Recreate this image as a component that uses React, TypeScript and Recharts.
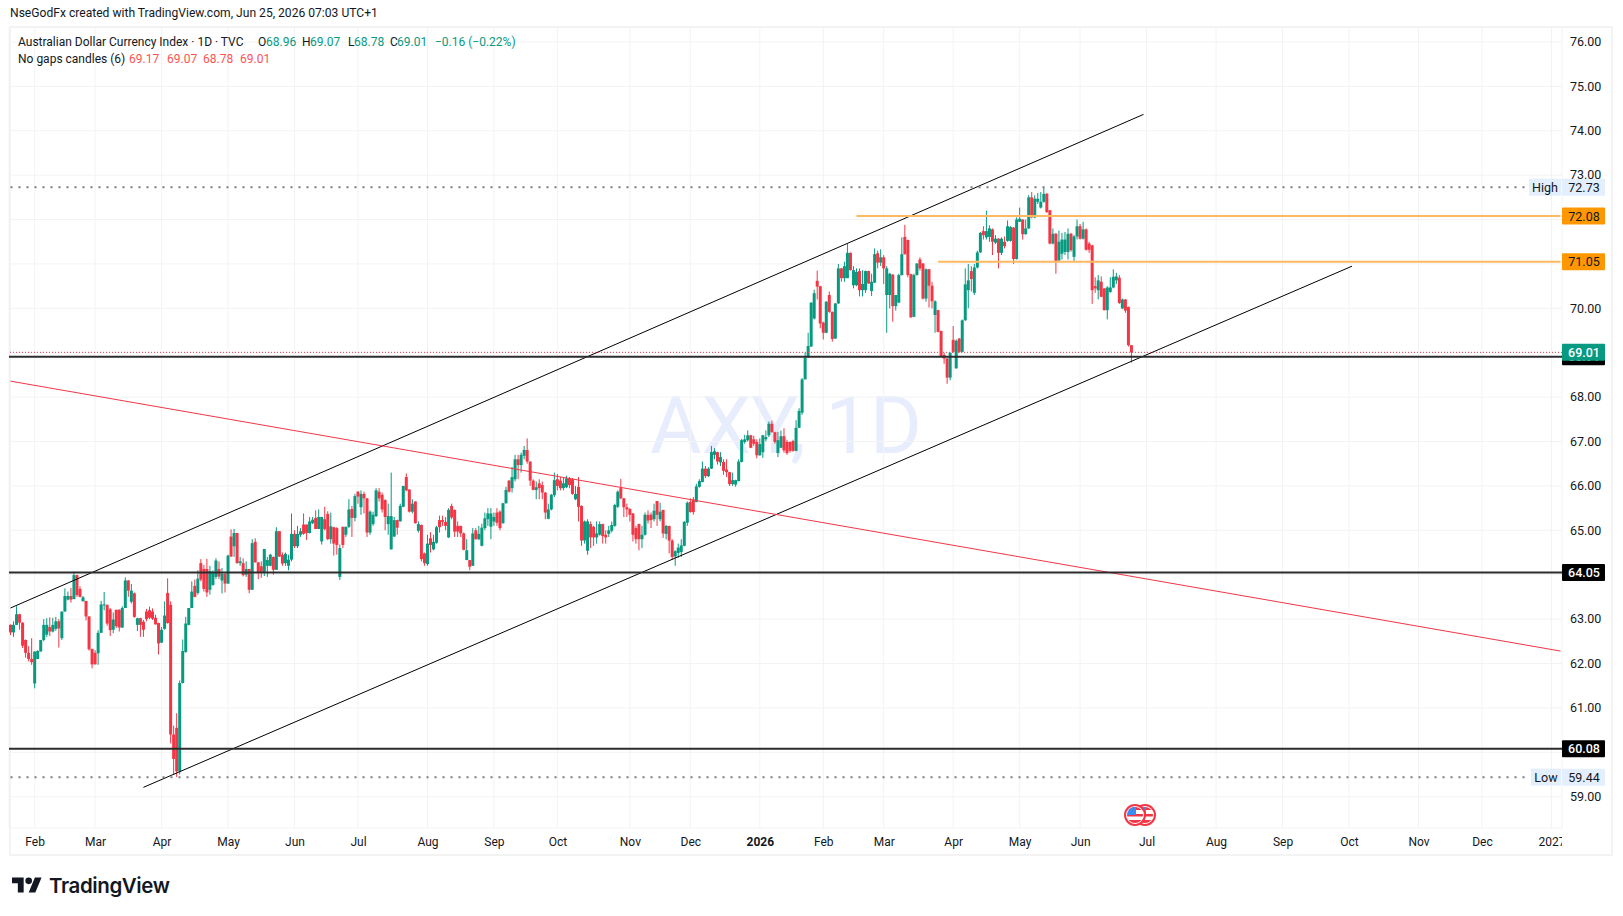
import { Bar, CartesianGrid, ComposedChart, ReferenceLine, XAxis, YAxis } from "recharts";

const UP = "#089981";
const DOWN = "#f23645";
const INK = "#131722";
const FONT = "Roboto, sans-serif";

// every candle is [open, high, low, close]
const early2025 = [
  [62.87,62.88,62.64,62.70],[62.70,62.95,62.60,62.87],[62.87,63.29,62.87,63.11],[63.11,63.12,62.76,62.92],
  [62.92,62.93,62.35,62.40],[62.53,62.54,62.13,62.24],[62.24,62.39,62.05,62.10],[62.10,62.57,61.97,62.03],
  [61.55,62.27,61.44,62.27],[62.10,62.30,62.10,62.28],[62.27,62.53,62.27,62.53],[62.53,63.00,62.50,62.87],
  [62.65,63.02,62.60,62.87],[62.82,63.04,62.62,62.72],[62.72,63.03,62.70,62.87],[62.78,63.05,62.74,62.95],
  [62.95,63.00,62.36,62.79],[62.57,63.17,62.53,63.17],[63.17,63.69,63.17,63.52],[63.44,63.62,63.42,63.52],
  [63.52,63.70,63.37,63.44],[63.45,64.07,63.45,63.99],[63.99,64.00,63.50,63.54],[63.68,63.74,63.49,63.50],
  [63.40,63.52,63.40,63.49],[63.41,63.41,62.97,63.06],[63.06,63.06,62.29,62.32],[62.33,62.33,61.89,61.98],
  [62.24,62.30,61.98,61.98],[62.23,62.75,61.97,62.69],[62.69,63.41,62.69,63.33],[63.31,63.61,63.20,63.33],
  [63.32,63.33,62.85,62.90],[63.22,63.25,62.62,62.75],[62.76,63.15,62.68,62.99],[63.21,63.21,62.80,62.84],
  [63.21,63.22,62.72,62.81],[62.81,63.29,62.80,63.25],[63.25,63.94,63.25,63.87],[63.87,63.88,63.50,63.64],
  [63.39,63.79,63.35,63.64],[63.58,63.60,63.03,63.05],[62.87,63.03,62.73,63.02],[63.02,63.03,62.60,62.87],
  [62.94,62.98,62.60,62.76],[63.17,63.23,62.95,63.00],[63.20,63.28,63.00,63.03],[63.17,63.24,62.98,63.01],
  [63.03,63.10,62.88,62.88],[62.91,62.92,62.20,62.45],[62.47,62.82,62.46,62.76],[62.78,63.40,62.76,63.08],
  [63.59,63.92,62.90,62.91],[63.32,63.40,60.20,60.40],[60.40,60.60,59.49,59.85],[60.55,60.88,59.44,59.57],
  [59.57,61.62,59.50,61.56],[61.56,62.54,61.55,62.28],[62.26,63.05,62.24,62.90],[62.87,63.25,62.86,63.25],
  [63.25,63.85,63.25,63.62],[63.75,63.89,63.49,63.50],[63.59,64.10,63.55,63.91],[64.26,64.35,63.85,63.89],
  [64.13,64.22,63.62,63.68],[64.13,64.36,63.50,63.60],[63.66,64.20,63.55,64.08],[63.77,64.10,63.75,64.04],
  [63.95,64.37,63.90,64.32],[64.13,64.30,63.90,63.96],[63.87,64.15,63.58,64.02],[64.02,64.03,63.60,63.80],
  [63.80,64.45,63.80,64.43],[64.86,65.02,64.40,64.41],[64.64,65.03,64.40,64.94],[64.94,64.94,64.25,64.26],
  [64.26,64.40,64.20,64.30],[64.26,64.37,63.96,63.99],[64.00,64.30,63.95,64.13],[64.13,64.13,63.58,63.66],
  [63.66,64.80,63.66,64.71],[64.74,64.82,64.27,64.28],[64.28,64.28,63.90,64.05],[64.19,64.30,63.93,64.05],
  [64.05,64.58,63.97,64.58],[64.20,64.40,63.95,64.33],[64.20,64.47,64.19,64.45],[64.40,64.41,64.00,64.11],
  [64.11,65.07,64.11,64.98],[64.98,64.98,64.40,64.41],[64.45,64.50,64.20,64.25],[64.26,64.50,64.20,64.47],
  [64.20,64.45,64.10,64.34],[64.34,65.38,64.30,64.92],[64.92,65.00,64.60,64.64],[64.64,65.10,64.60,64.92],
  [64.90,65.05,64.85,64.98],[65.13,65.38,64.90,64.92],[65.13,65.13,64.78,64.94],[64.94,65.30,64.93,65.20],
  [65.16,65.30,65.14,65.24],[65.28,65.45,65.03,65.03],[65.03,65.47,65.03,65.30],[64.75,65.30,64.68,65.30],
  [65.25,65.53,65.00,65.03],[65.37,65.43,64.78,64.80],[64.80,65.40,64.70,65.09],[65.07,65.08,64.43,64.70],
];

const mid2025 = [
  [65.05,65.07,64.45,64.67],[63.95,64.68,63.88,64.60],[65.08,65.08,64.60,64.67],[64.90,65.08,64.85,65.08],
  [65.08,65.70,65.05,65.47],[65.48,65.55,64.85,65.28],[65.28,65.82,65.20,65.77],[65.87,65.88,65.60,65.76],
  [65.52,65.90,65.35,65.82],[65.82,65.87,65.38,65.72],[65.72,65.73,64.85,64.95],[64.95,65.45,64.90,65.42],
  [65.14,65.42,65.10,65.35],[65.32,65.95,65.30,65.90],[65.87,65.95,65.65,65.72],[65.80,65.85,65.40,65.47],
  [65.68,65.70,65.00,65.30],[65.14,65.60,64.90,65.32],[64.57,66.30,64.57,65.32],[64.86,65.30,64.85,65.23],
  [65.23,65.24,64.90,65.06],[65.20,65.60,65.20,65.55],[65.53,66.00,65.52,66.00],[66.20,66.28,65.88,65.90],
  [65.92,65.92,65.40,65.42],[65.42,65.70,65.38,65.60],[65.65,65.65,65.15,65.16],[64.99,65.20,64.95,65.14],
  [65.12,65.13,64.30,64.35],[64.48,64.50,64.20,64.26],[64.24,64.90,64.20,64.70],[64.82,64.96,64.50,64.67],
  [64.57,64.90,64.55,64.74],[64.72,65.10,64.70,65.07],[65.23,65.33,64.95,65.07],[65.23,65.33,65.10,65.19],
  [65.19,65.30,65.00,65.10],[64.84,65.50,64.83,65.46],[65.55,65.60,65.25,65.29],[65.46,65.47,64.85,64.97],
  [65.10,65.20,64.85,64.97],[65.10,65.10,64.85,64.93],[64.93,64.95,64.55,64.56],[64.33,64.80,64.33,64.55],
  [64.33,64.33,64.10,64.18],[64.20,65.05,64.20,64.93],[65.00,65.05,64.79,64.80],[64.80,65.10,64.78,64.92],
  [64.65,65.15,64.64,65.06],[65.05,65.40,65.00,65.27],[65.25,65.50,65.10,65.38],[65.08,65.50,64.80,65.38],
  [65.20,65.40,65.10,65.30],[65.40,65.50,65.10,65.17],[65.42,65.45,65.00,65.05],[65.16,65.62,65.15,65.61],
  [65.61,65.98,65.60,65.91],[66.12,66.13,65.85,65.87],[65.95,66.43,65.85,66.20],[66.15,66.70,66.10,66.60],
  [66.60,66.70,66.15,66.47],[66.47,66.75,66.30,66.70],[66.68,66.90,66.60,66.81],[66.81,67.07,66.50,66.55],
  [66.55,66.55,66.00,66.12],[66.12,66.15,65.90,65.91],[65.91,66.10,65.70,65.97],[66.06,66.15,65.70,65.95],
  [66.02,66.10,65.70,65.85],[65.85,65.86,65.25,65.40],[65.26,65.60,65.25,65.47],[65.47,65.82,65.45,65.80],
  [65.79,66.30,65.75,66.13],[66.15,66.27,65.90,66.00],[66.12,66.20,65.90,65.95],[65.95,66.20,65.90,66.06],
  [65.97,66.23,65.95,66.17],[66.17,66.20,65.95,66.02],[66.15,66.18,65.80,65.82],[65.70,66.00,65.68,65.82],
  [65.98,66.20,65.20,65.53],[65.55,65.56,64.65,64.77],[64.77,65.22,64.70,65.20],[64.54,65.25,64.45,65.20],
  [65.14,65.20,64.60,64.84],[65.08,65.10,64.65,64.84],[64.84,65.20,64.70,64.93],[64.90,65.20,64.88,65.14],
  [65.14,65.15,64.70,64.87],[64.90,65.00,64.70,64.84],[64.92,65.10,64.85,65.00],[64.99,65.20,64.95,65.12],
  [65.10,65.60,65.08,65.57],[65.53,65.90,65.50,65.87],[65.95,66.16,65.70,65.72],[65.72,65.73,65.30,65.52],
  [65.52,65.60,65.30,65.47],[65.48,65.50,65.20,65.35],[65.38,65.39,64.75,64.90],[65.05,65.10,64.70,64.80],
  [65.14,65.15,64.55,64.80],[64.80,65.10,64.60,64.90],[64.90,65.40,64.88,65.35],[65.35,65.45,65.15,65.22],
  [65.35,65.40,65.05,65.23],[65.25,65.60,65.20,65.44],[65.66,65.66,65.10,65.35],[65.25,65.62,65.20,65.42],
  [65.46,65.46,64.83,64.93],[64.92,65.12,64.80,65.10],[65.10,65.10,64.48,64.77],
];

const winter2026 = [
  [64.77,64.80,64.33,64.40],[64.41,64.55,64.20,64.53],[64.49,64.70,64.38,64.61],[64.51,64.80,64.40,64.66],
  [64.65,65.21,64.64,65.19],[65.17,65.65,65.10,65.62],[65.64,65.72,65.40,65.41],[65.69,65.75,65.35,65.41],
  [65.64,66.05,65.63,65.99],[65.98,66.15,65.96,66.11],[66.09,66.55,66.08,66.39],[66.39,66.45,66.18,66.22],
  [66.22,66.42,66.20,66.39],[66.39,66.90,66.38,66.76],[66.70,66.85,66.60,66.78],[66.76,66.77,66.48,66.55],
  [66.53,66.76,66.45,66.65],[66.54,66.60,66.25,66.34],[66.37,66.60,66.20,66.31],[66.31,66.32,66.00,66.04],
  [66.04,66.30,66.00,66.13],[66.03,66.14,65.98,66.13],[66.11,66.60,66.10,66.55],[66.54,67.06,66.53,67.03],
  [66.99,67.15,66.95,67.05],[67.03,67.25,67.00,67.14],[67.14,67.15,66.85,66.86],[67.05,67.13,66.90,66.95],
  [66.99,67.05,66.62,66.69],[66.69,67.07,66.68,66.94],[66.76,67.15,66.63,67.14],[67.05,67.25,67.00,67.10],
  [67.14,67.45,67.10,67.40],[67.40,67.47,67.20,67.21],[67.21,67.22,66.95,66.99],[66.74,67.22,66.65,67.03],
  [66.86,67.25,66.85,67.12],[67.12,67.30,66.75,66.80],[66.99,67.04,66.70,66.74],[66.99,67.00,66.75,66.79],
  [67.01,67.04,66.77,66.79],[66.79,67.48,66.78,67.31],[67.31,67.75,67.30,67.69],
  [67.65,68.43,67.60,68.40],[68.40,69.00,68.40,68.89],[68.90,69.45,68.88,69.15],[69.14,70.13,69.13,70.13],
  [69.77,70.42,69.75,70.34],[70.62,70.85,70.20,70.49],[70.50,70.50,69.55,69.66],[69.68,69.70,69.30,69.45],
  [69.45,70.16,69.44,70.15],[70.30,70.38,69.90,69.92],[69.92,69.93,69.25,69.31],[69.32,70.12,69.31,70.11],
  [70.11,71.00,70.10,70.90],[70.90,70.91,70.60,70.68],[70.68,71.05,70.60,70.95],[70.68,71.45,70.68,71.25],
  [71.25,71.26,70.85,70.86],[70.52,70.95,70.45,70.86],[70.52,70.90,70.50,70.82],[70.84,70.90,70.27,70.41],
  [70.41,70.86,70.27,70.55],[70.41,70.85,70.35,70.84],[70.84,70.85,70.55,70.56],[70.39,70.78,70.28,70.60],
  [70.58,71.35,70.57,71.22],[71.24,71.30,70.90,71.03],[71.03,71.33,70.95,71.15],[71.15,71.20,70.55,70.90],
  [70.30,70.95,69.45,70.90],[70.30,70.80,70.00,70.78],[70.76,70.77,69.70,70.05],[70.05,70.30,69.95,70.30],
  [70.13,70.78,70.12,70.75],[70.75,71.60,70.74,71.22],[71.61,71.88,71.21,71.22],[71.54,71.55,70.70,70.75],
  [70.77,70.78,69.78,69.80],[69.81,70.78,69.80,70.75],[70.75,71.02,70.74,71.01],[71.10,71.15,70.85,70.90],
  [71.01,71.02,70.20,70.22],[70.22,70.90,70.15,70.88],[70.88,70.89,70.02,70.51],[70.51,70.60,70.00,70.16],
  [69.85,70.18,69.45,70.16],[69.96,69.97,69.46,69.47],[69.49,69.50,68.90,68.91],[68.95,69.00,68.75,68.87],
  [68.87,68.88,68.30,68.44],[68.44,69.00,68.38,69.00],[69.29,69.60,69.00,69.02],[68.65,69.30,68.64,69.27],
];

const recent2026 = [
  [69.32,69.33,69.00,69.02],[69.02,69.75,69.01,69.73],[69.73,70.90,69.72,70.54],[70.41,71.00,70.00,70.63],
  [70.84,70.95,70.38,70.66],[70.35,71.00,70.30,70.92],[70.92,71.30,70.90,71.26],[71.26,71.72,71.25,71.70],
  [71.74,71.85,71.55,71.65],[71.60,72.20,71.55,71.74],[71.61,71.87,71.50,71.80],[71.78,71.80,71.20,71.50],
  [71.48,71.65,71.45,71.57],[71.57,71.58,70.90,71.25],[71.25,71.60,71.20,71.57],[71.50,71.62,71.35,71.40],
  [71.52,71.98,71.50,71.85],[71.52,71.85,71.50,71.83],[71.82,71.83,71.00,71.11],[71.11,72.05,71.10,72.00],
  [71.95,72.27,71.95,72.02],[72.00,72.01,71.55,71.67],[71.67,72.00,71.66,71.80],[71.80,72.55,71.79,72.50],
  [72.50,72.62,72.03,72.05],[72.05,72.55,72.03,72.47],[72.40,72.60,72.35,72.47],[72.27,72.62,72.25,72.40],
  [72.40,72.73,72.38,72.58],[72.58,72.60,72.15,72.17],[72.21,72.22,71.44,71.46],[71.46,71.80,71.44,71.68],
  [71.68,71.70,70.78,71.07],[71.08,71.75,71.05,71.50],[71.23,71.70,71.10,71.55],[71.27,71.72,71.20,71.55],
  [71.27,71.80,71.10,71.68],[71.68,71.70,71.28,71.31],[71.16,71.65,71.05,71.62],[71.62,72.00,71.55,71.85],
  [71.85,71.90,71.55,71.57],[71.57,71.95,71.55,71.78],[71.78,71.80,71.30,71.32],[71.46,71.50,71.25,71.32],
  [71.42,71.43,70.10,70.41],[70.50,70.70,70.35,70.45],[70.41,70.75,70.20,70.63],[70.60,70.72,70.25,70.26],
  [70.45,70.45,69.95,69.96],[69.96,70.50,69.75,70.47],[70.37,70.70,70.35,70.47],[70.47,70.88,70.45,70.71],
  [70.63,70.80,70.55,70.72],[70.69,70.75,70.10,70.12],[70.00,70.22,69.98,70.20],[70.20,70.21,69.90,69.95],
  [70.03,70.04,69.14,69.17],[69.17,69.17,68.78,69.01],
];

// month ticks are the bar numbers the labels sit on
const monthLabels = ["Feb","Mar","Apr","May","Jun","Jul","Aug","Sep","Oct","Nov","Dec","2026","Feb","Mar","Apr","May","Jun","Jul","Aug","Sep","Oct","Nov","Dec","2027"];
const monthBars = [8,28,50,72,94,115,138,160,181,205,225,248,269,289,312,334,354,376,399,421,443,466,487,510];
const priceTicks = [59,60,61,62,63,64,65,66,67,68,69,70,71,72,73,74,75,76];
const hiddenPriceLabels = [60,64,69,71,72];
const TOTAL_BARS = 514;

const candles = [...early2025, ...mid2025, ...winter2026, ...recent2026];
const table = Array.from({ length: TOTAL_BARS }, (_, bar) => {
  const c = candles[bar];
  if (!c) return { bar };
  return { bar, open: c[0], high: c[1], low: c[2], close: c[3], range: [c[2], c[1]] };
});

const PLOT_RIGHT = 1562;

function Candle(props: any) {
  const { x, y, width, height, payload } = props;
  if (payload.open === undefined) return null;
  const { open, high, low, close } = payload;
  const perUnit = height / (high - low || 1);
  const top = y + (high - Math.max(open, close)) * perUnit;
  const bodyH = Math.max(Math.abs(open - close) * perUnit, 1);
  const cx = x + width / 2;
  const color = close >= open ? UP : DOWN;
  return (
    <g>
      <line x1={cx} x2={cx} y1={y} y2={y + height} stroke={color} strokeWidth={1} />
      <rect x={cx - 1.5} y={top} width={3} height={bodyH} fill={color} />
    </g>
  );
}

function TimeTick(props: any) {
  const { x, payload } = props;
  const label = monthLabels[monthBars.indexOf(payload.value)];
  return (
    <g>
      <defs>
        <clipPath id="timeClip">
          <rect x={0} y={828} width={PLOT_RIGHT} height={28} />
        </clipPath>
      </defs>
      <text x={x + 0.5} y={846} textAnchor="middle" clipPath="url(#timeClip)" fontFamily={FONT} fontSize={12} fill={INK} fontWeight={label === "2026" ? 700 : 400}>
        {label}
      </text>
    </g>
  );
}

function PriceTick(props: any) {
  const { y, payload } = props;
  if (hiddenPriceLabels.includes(payload.value)) return null;
  return (
    <text x={1570} y={y + 4.3} fontFamily={FONT} fontSize={12.5} fill={INK}>
      {payload.value.toFixed(2)}
    </text>
  );
}

function Tag(props: any) {
  const { viewBox, text, fill, color, name } = props;
  const y = viewBox.y;
  return (
    <g fontFamily={FONT} fontSize={12.5}>
      {name && <rect x={PLOT_RIGHT - (name === "High" ? 33 : 31)} y={y - 8.5} width={name === "High" ? 32 : 30} height={17} fill={fill} />}
      {name && <text x={PLOT_RIGHT - (name === "High" ? 17 : 16)} y={y + 4.5} textAnchor="middle" fill={INK}>{name}</text>}
      <rect x={PLOT_RIGHT} y={y - 8.5} width={43} height={17} rx={1} fill={fill} />
      <text x={PLOT_RIGHT + 22} y={y + 4.5} textAnchor="middle" fill={color} fontWeight={color === "#fff" ? 500 : 400}>{text}</text>
    </g>
  );
}

function UsFlag({ left }: { left: number }) {
  const r = 11;
  const id = "flag" + left;
  return (
    <svg style={{ position: "absolute", left, top: 804 }} width={22} height={22}>
      <defs>
        <clipPath id={id}><circle cx={r} cy={r} r={8} /></clipPath>
      </defs>
      <circle cx={r} cy={r} r={10} fill="#fff" stroke={DOWN} strokeWidth={2} />
      <g clipPath={`url(#${id})`}>
        <rect x={0} y={3} width={22} height={3} fill={DOWN} />
        <rect x={0} y={10} width={22} height={2.5} fill={DOWN} />
        <rect x={0} y={16} width={22} height={3} fill={DOWN} />
        <rect x={3} y={3} width={9} height={8} fill="#3d8bf0" />
      </g>
    </svg>
  );
}

const legendTop = [
  { text: "Australian Dollar Currency Index · 1D · TVC", left: 18, color: INK },
  { text: "O", left: 258, color: INK }, { text: "68.96", left: 266, color: UP },
  { text: "H", left: 302, color: INK }, { text: "69.07", left: 310, color: UP },
  { text: "L", left: 348, color: INK }, { text: "68.78", left: 354, color: UP },
  { text: "C", left: 390, color: INK }, { text: "69.01", left: 397, color: UP },
  { text: "−0.16 (−0.22%)", left: 435, color: UP },
];
const legendBottom = [
  { text: "No gaps candles (6)", left: 18, color: INK },
  { text: "69.17", left: 129, color: "#ff5252" }, { text: "69.07", left: 167, color: "#ff5252" },
  { text: "68.78", left: 203, color: "#ff5252" }, { text: "69.01", left: 240, color: "#ff5252" },
];

export default function App() {
  const abs = (left: number, top: number, extra: any = {}) => ({ position: "absolute" as const, left, top, whiteSpace: "nowrap" as const, fontFamily: FONT, ...extra });
  return (
    <div style={{ position: "absolute", left: 0, top: 0, width: 1623, height: 916, background: "#fff", overflow: "hidden" }}>
      <div style={abs(10, 6, { fontSize: 12.1, color: INK })}>NseGodFx created with TradingView.com, Jun 25, 2026 07:03 UTC+1</div>
      <div style={{ position: "absolute", left: 9, top: 26, width: 1600, height: 826, border: "2px solid #f3f3f3" }} />
      <div style={abs(650, 380, { fontSize: 79, color: "#e8edfd" })}>AXY, 1D</div>

      <div style={{ position: "absolute", left: 0, top: 0 }}>
        <ComposedChart
          width={1623}
          height={856}
          data={table}
          barCategoryGap={0}
          margin={{ top: 27, right: 9, bottom: 0, left: 9 }}
        >
          <CartesianGrid stroke="#f3f3f3" strokeWidth={1} />
          <XAxis dataKey="bar" type="category" ticks={monthBars} interval={0} height={28} axisLine={false} tickLine={false} tick={<TimeTick />} />
          <YAxis orientation="right" type="number" domain={[58.294, 76.338]} allowDataOverflow ticks={priceTicks} interval={0} width={52} axisLine={false} tickLine={false} tick={<PriceTick />} />
          <Bar dataKey="range" shape={<Candle />} isAnimationActive={false} />

          <ReferenceLine segment={[{ x: 0, y: 63.25 }, { x: 375, y: 74.37 }]} stroke="#000" strokeWidth={1} />
          <ReferenceLine segment={[{ x: 44, y: 59.21 }, { x: 444, y: 70.95 }]} stroke="#000" strokeWidth={1} />
          <ReferenceLine segment={[{ x: 0, y: 68.36 }, { x: 513, y: 62.28 }]} stroke={DOWN} strokeWidth={1} />

          <ReferenceLine segment={[{ x: 0, y: 72.73 }, { x: 502, y: 72.73 }]} stroke="#787b86" strokeWidth={2} strokeDasharray="2 6" />
          <ReferenceLine segment={[{ x: 0, y: 59.44 }, { x: 503, y: 59.44 }]} stroke="#787b86" strokeWidth={2} strokeDasharray="2 6" />
          <ReferenceLine y={72.73} stroke="none" label={<Tag text="72.73" fill="#e3effd" color={INK} name="High" />} />
          <ReferenceLine y={59.44} stroke="none" label={<Tag text="59.44" fill="#e3effd" color={INK} name="Low" />} />

          <ReferenceLine segment={[{ x: 280, y: 72.08 }, { x: 513, y: 72.08 }]} stroke="#ffb95f" strokeWidth={2} />
          <ReferenceLine segment={[{ x: 307, y: 71.05 }, { x: 513, y: 71.05 }]} stroke="#ffb95f" strokeWidth={2} />
          <ReferenceLine y={72.08} stroke="none" label={<Tag text="72.08" fill="#ff9800" color={INK} />} />
          <ReferenceLine y={71.05} stroke="none" label={<Tag text="71.05" fill="#ff9800" color={INK} />} />

          <ReferenceLine y={64.05} stroke="#2c2c2c" strokeWidth={2} label={<Tag text="64.05" fill="#000" color="#fff" />} />
          <ReferenceLine y={60.08} stroke="#2c2c2c" strokeWidth={2} label={<Tag text="60.08" fill="#000" color="#fff" />} />
          <ReferenceLine y={68.91} stroke="#2c2c2c" strokeWidth={2} label={<Tag text="68.91" fill="#000" color="#fff" />} />
          <ReferenceLine y={69.01} stroke={DOWN} strokeWidth={1} strokeDasharray="1 2" label={<Tag text="69.01" fill={UP} color="#fff" />} />
        </ComposedChart>
      </div>

      {legendTop.map((l) => (
        <span key={l.left} style={abs(l.left, 35, { fontSize: 12, color: l.color })}>{l.text}</span>
      ))}
      {legendBottom.map((l) => (
        <span key={l.left} style={abs(l.left, 52, { fontSize: 12, color: l.color })}>{l.text}</span>
      ))}

      <UsFlag left={1134} />
      <UsFlag left={1124} />

      <svg style={{ position: "absolute", left: 12, top: 874 }} width={30} height={22} viewBox="0 0 36 26">
        <path d="M14 22H7V11H0V4h14v18zM28 22h-8l7.5-18h8L28 22z" fill={INK} />
        <circle cx={20} cy={8} r={4} fill={INK} />
      </svg>
      <div style={abs(49, 873, { fontFamily: "Inter, sans-serif", fontSize: 20.5, fontWeight: 600, color: INK, letterSpacing: -0.4 })}>TradingView</div>
    </div>
  );
}
